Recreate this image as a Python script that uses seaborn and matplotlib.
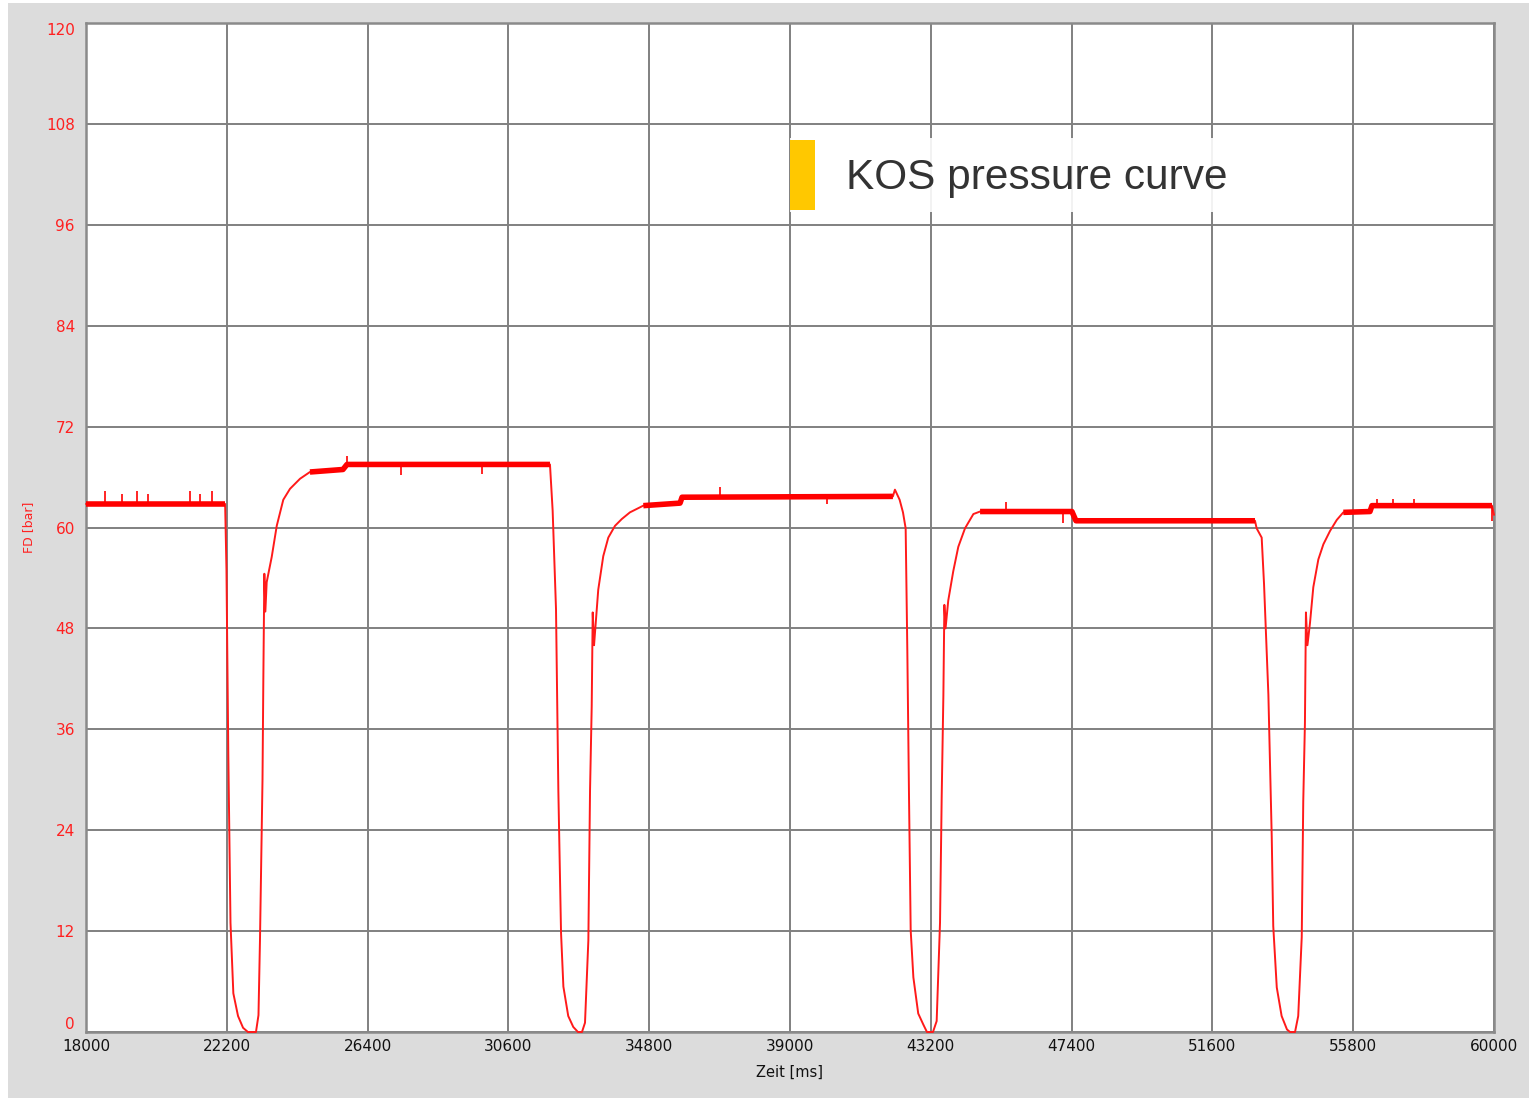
import numpy as np
import pandas as pd
import seaborn as sns
import matplotlib.pyplot as plt
from matplotlib.patches import Rectangle

# Pressure trace (time in ms, pressure in bar)
time_ms = [
    18000, 22150, 22190, 22245, 22310, 22395, 22535, 22685, 22830, 23070,
    23145, 23190, 23265, 23290, 23320, 23350, 23390, 23540, 23690, 23885,
    24085, 24385, 24680, 25665, 25785, 31840,
    31920, 32020, 32090, 32170, 32240, 32385, 32535, 32675, 32795, 32885,
    32985, 33035, 33085, 33115, 33155, 33185, 33280, 33430, 33580, 33780,
    33980, 34225, 34625, 35720, 35780, 42070, 42130,
    42270, 42370, 42450, 42500, 42550, 42600, 42680, 42825, 42975, 43085,
    43265, 43375, 43475, 43525, 43575, 43605, 43640, 43720, 43870, 44020,
    44220, 44470, 44670, 47410, 47530, 52870,
    52920, 53070, 53140, 53270, 53370, 53415, 53520, 53665, 53825, 53915,
    54065, 54160, 54265, 54310, 54360, 54390, 54435, 54510, 54610, 54760,
    54910, 55110, 55310, 55505, 56300, 56360, 59940, 60000,
]
pressure_bar = [
    62.8, 62.8, 55.0, 33.0, 13.0, 4.6, 1.9, 0.5, 0.0, 0.0,
    2.0, 11.0, 30.0, 42.0, 54.5, 50.0, 53.5, 56.5, 60.2, 63.3,
    64.6, 65.8, 66.6, 66.9, 67.5, 67.5,
    62.0, 50.3, 28.7, 11.8, 5.4, 1.9, 0.6, 0.0, 0.0, 1.1,
    10.9, 28.7, 38.7, 49.9, 46.0, 47.6, 52.6, 56.6, 58.8, 60.2,
    61.0, 61.8, 62.6, 62.9, 63.6, 63.7, 64.5,
    63.3, 61.8, 59.9, 45.3, 28.0, 12.1, 6.5, 2.2, 0.9, 0.0,
    0.0, 1.3, 13.0, 28.0, 40.0, 50.8, 48.0, 51.3, 54.8, 57.7,
    59.9, 61.6, 61.9, 61.9, 60.8, 60.8,
    59.9, 58.8, 53.3, 40.1, 23.2, 12.6, 5.3, 1.9, 0.3, 0.0,
    0.0, 1.9, 11.3, 27.4, 36.7, 49.9, 46.0, 48.6, 52.9, 56.2,
    58.0, 59.6, 60.9, 61.8, 61.9, 62.6, 62.6, 61.5,
]

# Time spans where the signal sits on a noisy plateau (drawn thicker)
plateau_start = [18000, 24680, 34625, 44670, 55505]
plateau_end = [22150, 31840, 42070, 52870, 59940]

# Small sensor spikes on the plateaus
spike_time = [18570, 19070, 19520, 19850, 21100, 21400, 21760,
              25790, 27400, 29800, 36900, 40100, 45450, 47150, 56500, 57000, 57600, 59950]
spike_base = [62.8, 62.8, 62.8, 62.8, 62.8, 62.8, 62.8,
              67.5, 67.5, 67.5, 63.7, 63.7, 61.9, 61.9, 62.6, 62.6, 62.6, 62.6]
spike_top = [64.3, 64.0, 64.3, 64.0, 64.3, 64.0, 64.3,
             68.5, 66.2, 66.4, 64.8, 62.8, 63.0, 60.5, 63.4, 63.4, 63.4, 60.8]

x_ticks = [18000, 22200, 26400, 30600, 34800, 39000, 43200, 47400, 51600, 55800, 60000]
y_ticks = [0, 12, 24, 36, 48, 60, 72, 84, 96, 108, 120]

df = pd.DataFrame({'time': time_ms, 'pressure': pressure_bar})

sns.set_style('white')
plt.rcParams['font.family'] = ['DejaVu Sans']

W, H = 1529, 1098
fig = plt.figure(figsize=(W / 100, H / 100), dpi=100)
fig.patch.set_facecolor('white')
fig.patches.append(Rectangle((8 / W, 0), 1, 1 - 3 / H, transform=fig.transFigure,
                             facecolor='#dcdcdc', edgecolor='none', zorder=-10))

ax = fig.add_axes([86 / W, 1 - 1032 / H, (1494 - 86) / W, (1032 - 23) / H])
ax.set_facecolor('white')

sns.lineplot(data=df, x='time', y='pressure', ax=ax, color='#ff1a1a',
             linewidth=1.4, estimator=None, sort=False, zorder=3, clip_on=False)
for s, e in zip(plateau_start, plateau_end):
    part = df[(df['time'] >= s) & (df['time'] <= e)]
    sns.lineplot(data=part, x='time', y='pressure', ax=ax, color='#ff0000',
                 linewidth=4.0, estimator=None, sort=False, zorder=4,
                 solid_capstyle='butt')
ax.vlines(spike_time, spike_base, spike_top, color='#ff0000', linewidth=1.2, zorder=4)

ax.set_xlim(18000, 60000)
ax.set_ylim(0, 120)
ax.set_xticks(x_ticks)
ax.set_yticks(y_ticks)
ax.set_xticklabels([str(v) for v in x_ticks])
ax.set_yticklabels([str(v) for v in y_ticks])
ax.grid(True, color='#808080', linewidth=1.4)
ax.set_axisbelow(True)
for sp in ax.spines.values():
    sp.set_visible(True)
    sp.set_color('#8a8a8a')
    sp.set_linewidth(1.8)
    sp.set_zorder(2)

ax.tick_params(axis='y', length=0, pad=8, labelsize=11, labelcolor='#ff2020')
ax.tick_params(axis='x', length=0, pad=5, labelsize=11, labelcolor='#111111')
ylabels = ax.get_yticklabels()
ylabels[0].set_va('bottom')
ylabels[-1].set_va('top')

ax.set_xlabel('Zeit [ms]', fontsize=10.5, color='#111111', labelpad=8)
ax.set_ylabel('FD [bar]', fontsize=9, color='#ff2020')
ax.yaxis.set_label_coords(-0.036, 0.5)

# Overlay label box
fig.patches.append(Rectangle((790 / W, 1 - 212 / H), (1352 - 790) / W, 74 / H,
                             transform=fig.transFigure, facecolor='white',
                             edgecolor='none', alpha=0.9, zorder=5))
fig.patches.append(Rectangle((790 / W, 1 - 210 / H), 25 / W, 70 / H,
                             transform=fig.transFigure, facecolor='#ffc800',
                             edgecolor='none', zorder=6))
fig.text(846 / W, 1 - 178 / H, 'KOS pressure curve', fontsize=30.5,
         family=['Liberation Sans', 'DejaVu Sans'], color='#333333',
         va='center', ha='left', zorder=7)

fig.savefig('out.png', dpi=100)
plt.close(fig)
